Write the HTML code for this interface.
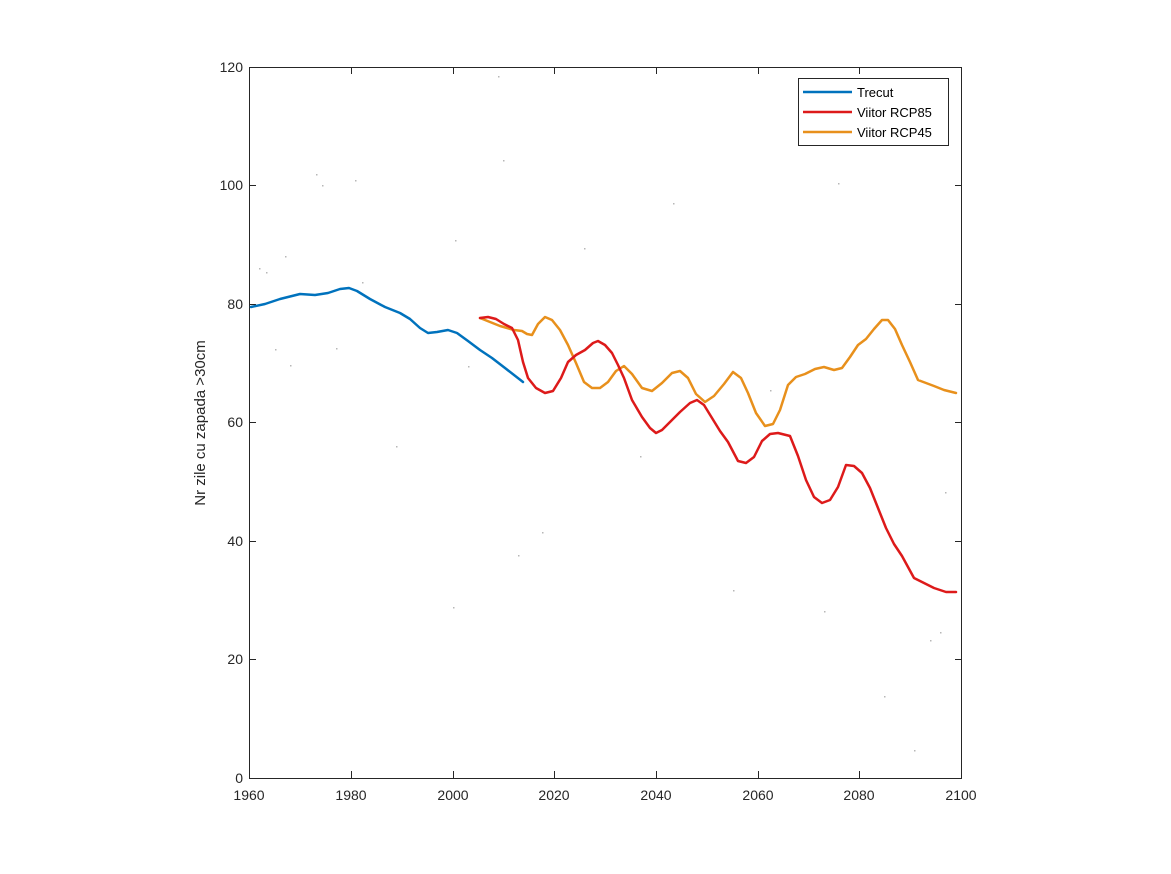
<!DOCTYPE html>
<html><head><style>
html,body{margin:0;padding:0;background:#fff;}
svg{display:block;font-family:"Liberation Sans",sans-serif;}
</style></head><body>
<svg width="1171" height="874" viewBox="0 0 1171 874" xmlns="http://www.w3.org/2000/svg">
<rect width="1171" height="874" fill="#fff"/>
<g fill="#999" opacity="0.7">
<rect x="259" y="268" width="1.5" height="1.5"/><rect x="266" y="272" width="1.5" height="1.5"/><rect x="285" y="256" width="1.5" height="1.5"/><rect x="275" y="349" width="1.5" height="1.5"/><rect x="290" y="365" width="1.5" height="1.5"/><rect x="316" y="174" width="1.5" height="1.5"/><rect x="322" y="185" width="1.5" height="1.5"/><rect x="355" y="180" width="1.5" height="1.5"/><rect x="336" y="348" width="1.5" height="1.5"/><rect x="362" y="282" width="1.5" height="1.5"/><rect x="396" y="446" width="1.5" height="1.5"/><rect x="453" y="607" width="1.5" height="1.5"/><rect x="503" y="160" width="1.5" height="1.5"/><rect x="518" y="555" width="1.5" height="1.5"/><rect x="468" y="366" width="1.5" height="1.5"/><rect x="542" y="532" width="1.5" height="1.5"/><rect x="584" y="248" width="1.5" height="1.5"/><rect x="640" y="456" width="1.5" height="1.5"/><rect x="673" y="203" width="1.5" height="1.5"/><rect x="733" y="590" width="1.5" height="1.5"/><rect x="770" y="390" width="1.5" height="1.5"/><rect x="838" y="183" width="1.5" height="1.5"/><rect x="884" y="696" width="1.5" height="1.5"/><rect x="914" y="750" width="1.5" height="1.5"/><rect x="930" y="640" width="1.5" height="1.5"/><rect x="940" y="632" width="1.5" height="1.5"/><rect x="945" y="492" width="1.5" height="1.5"/><rect x="824" y="611" width="1.5" height="1.5"/><rect x="498" y="76" width="1.5" height="1.5"/><rect x="455" y="240" width="1.5" height="1.5"/>
</g>
<rect x="249.5" y="67.5" width="712" height="711" fill="none" stroke="#262626" stroke-width="1"/>
<g stroke="#262626" stroke-width="1">
<line x1="249.5" y1="67.5" x2="249.5" y2="73"/><line x1="351.5" y1="778" x2="351.5" y2="771"/><line x1="453.5" y1="778" x2="453.5" y2="771"/><line x1="554.5" y1="778" x2="554.5" y2="771"/><line x1="656.5" y1="778" x2="656.5" y2="771"/><line x1="758.5" y1="778" x2="758.5" y2="771"/><line x1="859.5" y1="778" x2="859.5" y2="771"/>
<line x1="351.5" y1="67.5" x2="351.5" y2="74"/><line x1="453.5" y1="67.5" x2="453.5" y2="74"/><line x1="554.5" y1="67.5" x2="554.5" y2="74"/><line x1="656.5" y1="67.5" x2="656.5" y2="74"/><line x1="758.5" y1="67.5" x2="758.5" y2="74"/><line x1="859.5" y1="67.5" x2="859.5" y2="74"/>
<line x1="249.5" y1="185.5" x2="256" y2="185.5"/><line x1="249.5" y1="304.5" x2="256" y2="304.5"/><line x1="249.5" y1="422.5" x2="256" y2="422.5"/><line x1="249.5" y1="541.5" x2="256" y2="541.5"/><line x1="249.5" y1="659.5" x2="256" y2="659.5"/>
<line x1="961.5" y1="185.5" x2="955" y2="185.5"/><line x1="961.5" y1="304.5" x2="955" y2="304.5"/><line x1="961.5" y1="422.5" x2="955" y2="422.5"/><line x1="961.5" y1="541.5" x2="955" y2="541.5"/><line x1="961.5" y1="659.5" x2="955" y2="659.5"/>
</g>
<g font-size="14" fill="#262626" text-anchor="end">
<text x="243" y="72">120</text><text x="243" y="190">100</text><text x="243" y="309">80</text><text x="243" y="427">60</text><text x="243" y="546">40</text><text x="243" y="664">20</text><text x="243" y="783">0</text>
</g>
<g font-size="14" fill="#262626" text-anchor="middle">
<text x="249" y="800">1960</text><text x="351" y="800">1980</text><text x="453" y="800">2000</text><text x="554" y="800">2020</text><text x="656" y="800">2040</text><text x="758" y="800">2060</text><text x="859" y="800">2080</text><text x="961" y="800">2100</text>
</g>
<text transform="translate(205,423) rotate(-90)" font-size="15" fill="#262626" text-anchor="middle">Nr zile cu zapada &gt;30cm</text>
<g fill="none" stroke-width="2.5" stroke-linejoin="round" stroke-linecap="round">
<polyline stroke="#0072BD" points="251,307 265,304 280,299 300,294 315,295 328,293 340,289 349,288 357,291 370,299 385,307 400,313 410,319 420,328 428,333 437,332 448,330 457,333 468,341 480,350 492,358 505,368 523,382"/>
<polyline stroke="#e8901c" points="480,318 500,326 514,330 522,331 527,334 532,335 538,324 545,317 552,320 560,330 568,345 576,363 584,382 592,388 600,388 608,382 616,371 624,366 632,374 642,388 652,391 662,383 672,373 680,371 688,378 696,394 705,402 714,396 724,384 733,372 741,378 748,393 756,413 765,426 773,424 780,410 788,385 796,377 805,374 815,369 824,367 834,370 842,368 850,357 858,345 866,339 874,329 882,320 888,320 895,329 902,345 910,362 918,380 926,383 934,386 944,390 956,393"/>
<polyline stroke="#DD1A1A" points="480,318 488,317 496,319 504,324 512,328 518,340 523,362 528,378 536,388 545,393 553,391 561,378 568,362 576,355 585,350 593,343 598,341 605,345 612,353 618,365 624,378 632,400 642,417 650,428 656,433 662,430 670,422 680,412 690,403 697,400 704,405 712,418 720,431 728,442 738,461 746,463 754,457 762,441 770,434 778,433 790,436 798,456 806,480 814,497 822,503 830,500 838,487 846,465 854,466 862,473 870,488 878,508 886,528 894,544 902,556 908,567 914,578 924,583 934,588 946,592 956,592"/>
</g>
<rect x="798.5" y="78.5" width="150" height="67" fill="#fff" stroke="#262626" stroke-width="1"/>
<g stroke-width="2.5">
<line x1="803" y1="92" x2="852" y2="92" stroke="#0072BD"/>
<line x1="803" y1="112" x2="852" y2="112" stroke="#DD1A1A"/>
<line x1="803" y1="132" x2="852" y2="132" stroke="#e8901c"/>
</g>
<g font-size="13" fill="#000">
<text x="857" y="97">Trecut</text><text x="857" y="117">Viitor RCP85</text><text x="857" y="137">Viitor RCP45</text>
</g>
</svg>
</body></html>
